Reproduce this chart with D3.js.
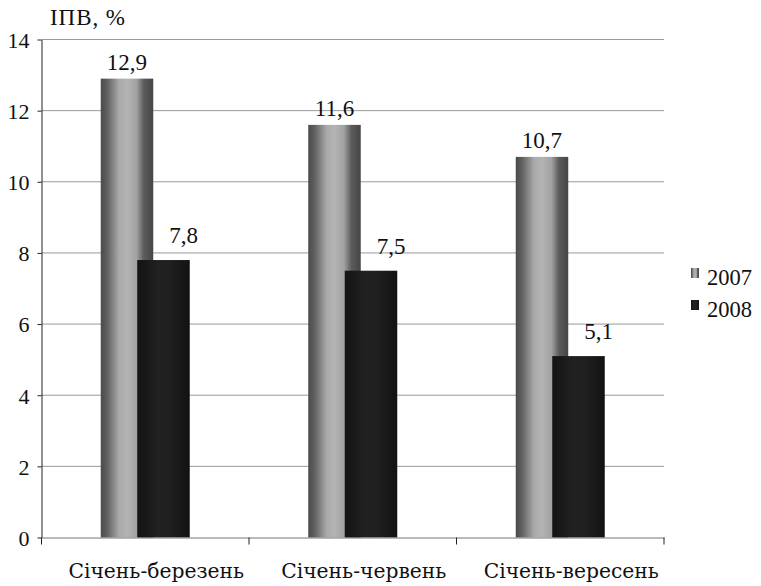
<!DOCTYPE html>
<html><head><meta charset="utf-8">
<script src="https://cdn.jsdelivr.net/npm/d3@7"></script>
<style>
svg text { font-family: "Liberation Serif", serif !important; }
svg text.cat { font-family: "DejaVu Serif", serif !important; }
</style>
</head><body style="margin:0;background:#fff"><svg id="c" width="761" height="586" font-family="Liberation Serif"></svg>
<script>
const categories = ["Січень-березень", "Січень-червень", "Січень-вересень"];
const seriesNames = ["2007", "2008"];
const values2007 = [12.9, 11.6, 10.7];
const values2008 = [7.8, 7.5, 5.1];
const yTicks = [0, 2, 4, 6, 8, 10, 12, 14];
const yTitle = "ІПВ, %";

const NUM_FONT = "Liberation Serif";
const CAT_FONT = "DejaVu Serif";
const svg = d3.select("#c");
const pLeft = 41.5, pRight = 664, pTop = 39.5, pBottom = 537.5;
const x = d3.scaleBand().domain(categories).range([pLeft, pRight]).padding(0);
const y = d3.scaleLinear().domain([0, 14]).range([pBottom, pTop]);

const defs = svg.append("defs");
const g1 = defs.append("linearGradient").attr("id","g2007").attr("x1","0").attr("x2","1").attr("y1","0").attr("y2","0");
[[0,"#4a4a4a"],[0.12,"#606060"],[0.35,"#aaaaaa"],[0.5,"#b4b4b4"],[0.68,"#a2a2a2"],[0.82,"#5c5c5c"],[1,"#454545"]].forEach(s=>g1.append("stop").attr("offset",s[0]).attr("stop-color",s[1]));
const g2 = defs.append("linearGradient").attr("id","g2008").attr("x1","0").attr("x2","1").attr("y1","0").attr("y2","0");
[[0,"#131313"],[0.4,"#212121"],[0.6,"#202020"],[1,"#121212"]].forEach(s=>g2.append("stop").attr("offset",s[0]).attr("stop-color",s[1]));

// gridlines
svg.append("g").selectAll("line").data(yTicks.filter(d=>d>0)).join("line")
  .attr("x1", pLeft).attr("x2", pRight).attr("y1", d=>y(d)).attr("y2", d=>y(d))
  .attr("stroke", "#999").attr("stroke-width", 1);

const bw = x.bandwidth();
const barW = bw * 0.253;
const step = bw * 0.176;
const series = [values2007, values2008];
const barX = (i, si) => x(categories[i]) + bw/2 - (barW + step)/2 + si*step;
series.forEach((vals, si) => {
  svg.append("g").selectAll("rect").data(vals).join("rect")
    .attr("x", (d,i) => barX(i, si))
    .attr("y", d => y(d))
    .attr("width", barW)
    .attr("height", d => y(0) - y(d))
    .attr("fill", `url(#g${seriesNames[si]})`);
});

// value labels
const fmt = d => d.toFixed(1).replace(".", ",");
series.forEach((vals, si) => {
  svg.append("g").attr("font-family", NUM_FONT).selectAll("text").data(vals).join("text")
    .attr("x", (d,i) => barX(i, si) + barW/2 + (si===1?20:0))
    .attr("y", d => y(d) - (si===1?17:9))
    .attr("text-anchor", "middle")
    .attr("font-size", 23).attr("fill", "#111")
    .text(fmt);
});

// y axis
const ya = d3.axisLeft(y).tickValues(yTicks).tickSize(4).tickSizeOuter(0).tickFormat(d3.format("d"));
const yg = svg.append("g").attr("transform", `translate(${pLeft},0)`).call(ya);
yg.attr("font-family", NUM_FONT).attr("font-size", 22);
yg.select(".domain").attr("stroke", "#222");
yg.selectAll(".tick line").attr("stroke", "#222");
yg.selectAll(".tick text").attr("x", -12).attr("dy", "0.36em").attr("fill","#111");

// x axis
const xa = d3.axisBottom(x).tickSize(0).tickSizeOuter(0);
const xg = svg.append("g").attr("transform", `translate(0,${pBottom})`).call(xa);
xg.attr("font-family", CAT_FONT).attr("font-size", 20.3);
xg.select(".domain").attr("stroke", "#777");
xg.selectAll(".tick text").attr("class", "cat").attr("x", 11).attr("y", 40).attr("dy", 0).attr("fill","#111");
const bounds = categories.map(c => x(c)).concat([pRight]);
svg.append("g").selectAll("line").data(bounds).join("line")
  .attr("x1", d=>d).attr("x2", d=>d).attr("y1", pBottom).attr("y2", pBottom+7)
  .attr("stroke", "#222");

// y title
svg.append("text").attr("x", 50).attr("y", 25).attr("font-size", 23)
  .attr("font-family", NUM_FONT).attr("fill","#111")
  .attr("textLength", 75).text(yTitle);

// legend
const lg = svg.append("g").attr("transform","translate(691,268)").attr("font-family", NUM_FONT);
seriesNames.forEach((s,i)=>{
  lg.append("rect").attr("x",0).attr("y",i*32).attr("width",8).attr("height",10).attr("fill",`url(#g${s})`);
  lg.append("text").attr("x",16).attr("y",i*32+17).attr("font-size",22.5)
    .attr("fill","#111").text(s);
});
</script></body></html>
